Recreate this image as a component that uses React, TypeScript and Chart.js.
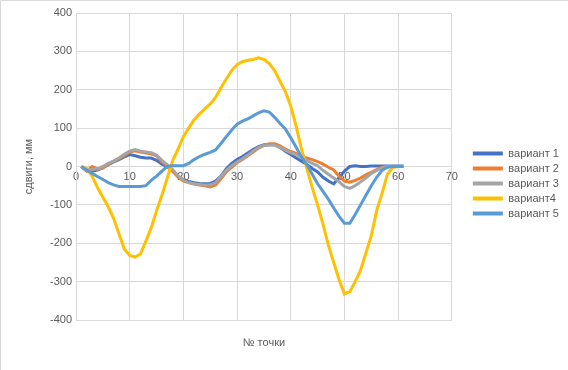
import { useEffect, useRef } from "react";
import { Chart, registerables } from "chart.js";

Chart.register(...registerables);

const pointNumbers = [
  1, 2, 3, 4, 5, 6, 7, 8, 9, 10, 11, 12, 13, 14, 15, 16, 17, 18, 19, 20,
  21, 22, 23, 24, 25, 26, 27, 28, 29, 30, 31, 32, 33, 34, 35, 36, 37, 38, 39, 40,
  41, 42, 43, 44, 45, 46, 47, 48, 49, 50, 51, 52, 53, 54, 55, 56, 57, 58, 59, 60, 61,
];

const seriesNames = ["вариант 1", "вариант 2", "вариант 3", "вариант4", "вариант 5"];
const seriesColors = ["#4472C4", "#ED7D31", "#A5A5A5", "#FFC000", "#5B9BD5"];

const variant1 = [
  0, -12, -12, -9, -3, 5, 12, 18, 25, 31, 28, 24, 22, 22, 16, 6, 0, -12, -25, -35,
  -39, -42, -44, -45, -44, -38, -25, -6, 8, 18, 26, 35, 44, 52, 57, 57, 57, 50, 40, 31,
  22, 14, 5, -5, -14, -28, -38, -45, -29, -12, 0, 2, 0, 0, 1, 1, 1, 1, 1, 1, 1,
];
const variant2 = [
  0, -12, 0, -7, -4, 6, 14, 20, 28, 38, 41, 38, 35, 33, 28, 12, 2, -12, -28, -38,
  -42, -46, -48, -50, -53, -48, -32, -14, -2, 10, 18, 28, 38, 48, 55, 59, 59, 54, 45, 39,
  34, 27, 22, 18, 13, 6, -2, -9, -25, -38, -41, -36, -30, -22, -15, -8, -2, 0, 0, 0, 0,
];
const variant3 = [
  0, -10, -8, -6, 0, 8, 14, 22, 32, 40, 44, 40, 38, 36, 30, 16, 4, -8, -24, -36,
  -42, -45, -47, -48, -48, -42, -26, -10, 2, 12, 20, 30, 40, 50, 55, 56, 56, 50, 42, 36,
  30, 24, 16, 8, 2, -10, -20, -30, -40, -52, -57, -50, -40, -30, -18, -10, -4, 0, 0, 0, 0,
];
const variant4 = [
  0, -5, -25, -55, -80, -105, -135, -175, -215, -232, -236, -228, -195, -160, -115, -75, -30, 15, 45, 78,
  100, 122, 137, 150, 163, 180, 205, 228, 250, 265, 273, 277, 279, 283, 279, 268, 250, 222, 195, 157,
  105, 45, -5, -55, -100, -150, -205, -250, -295, -332, -326, -300, -270, -225, -180, -115, -70, -20, -3, 0, 0,
];
const variant5 = [
  0, -9, -18, -26, -34, -42, -48, -52, -52, -52, -52, -52, -50, -36, -25, -12, 0, 2, 2, 2,
  8, 18, 26, 32, 37, 43, 60, 78, 95, 110, 118, 124, 132, 140, 145, 142, 128, 112, 98, 75,
  50, 25, 5, -20, -45, -65, -85, -108, -130, -148, -148, -125, -100, -75, -50, -28, -10, -2, 0, 0, 0,
];
const allSeries = [variant1, variant2, variant3, variant4, variant5];

const xTitle = "№ точки";
const yTitle = "сдвиги, мм";

const textColor = "#595959";
const gridColor = "#D9D9D9";
const fontFamily = "'Liberation Sans', Arial, sans-serif";

const frame = {
  id: "frame",
  beforeDraw(chart: any) {
    const ctx = chart.ctx;
    ctx.save();
    ctx.fillStyle = "#ffffff";
    ctx.fillRect(0, 0, chart.width, chart.height);
    ctx.strokeStyle = gridColor;
    ctx.lineWidth = 1;
    ctx.beginPath();
    ctx.moveTo(0.5, chart.height);
    ctx.lineTo(0.5, 0.5);
    ctx.lineTo(chart.width, 0.5);
    ctx.stroke();
    ctx.restore();
  },
};

export default function App() {
  const ref = useRef<HTMLCanvasElement | null>(null);

  useEffect(() => {
    if (!ref.current) return;
    const datasets = allSeries.map((vals, i) => ({
      label: seriesNames[i],
      data: vals.map((y, k) => ({ x: pointNumbers[k], y })),
      borderColor: seriesColors[i],
      backgroundColor: seriesColors[i],
      borderWidth: 3,
      pointRadius: 0,
      tension: 0,
      order: -i,
      xAxisID: "x",
      yAxisID: "y",
    }));
    const chart = new Chart(ref.current, {
      type: "line",
      data: { datasets },
      plugins: [frame],
      options: {
        responsive: false,
        animation: false,
        layout: { padding: { left: 18, right: 9, top: 13, bottom: 16 } },
        plugins: {
          tooltip: { enabled: false },
          legend: {
            position: "right",
            labels: {
              boxWidth: 30,
              boxHeight: 4,
              padding: 4,
              color: textColor,
              font: { size: 11, family: fontFamily },
              sort: (a: any, b: any) => a.datasetIndex - b.datasetIndex,
              generateLabels: (c: any) =>
                Chart.defaults.plugins.legend.labels
                  .generateLabels(c)
                  .map((l: any) => ({ ...l, lineWidth: 0 })),
            },
          },
        },
        scales: {
          x: {
            type: "linear",
            position: { y: 0 } as any,
            min: 0,
            max: 70,
            ticks: {
              stepSize: 10,
              padding: 4,
              maxRotation: 0,
              color: textColor,
              font: { size: 11, family: fontFamily },
            },
            grid: { color: gridColor, drawTicks: false },
            border: { color: gridColor },
          },
          y: {
            type: "linear",
            position: "left",
            min: -400,
            max: 400,
            ticks: {
              stepSize: 100,
              padding: 4,
              color: textColor,
              font: { size: 11, family: fontFamily },
            },
            grid: { color: gridColor, drawTicks: false },
            border: { color: gridColor },
            title: {
              display: true,
              text: yTitle,
              color: textColor,
              font: { size: 11, family: fontFamily },
              padding: { top: 4, bottom: 4 },
            },
            afterFit: (s: any) => {
              s.width = 58;
            },
          },
          xTitleAxis: {
            type: "linear",
            position: "bottom",
            display: true,
            ticks: { display: false },
            grid: { display: false },
            border: { display: false },
            title: {
              display: true,
              text: xTitle,
              color: textColor,
              font: { size: 11, family: fontFamily },
              padding: { top: 16, bottom: 4 },
            },
            afterFit: (s: any) => {
              s.height = 34;
            },
          },
          gap: {
            type: "linear",
            position: "right",
            display: true,
            ticks: { display: false },
            grid: { display: false },
            border: { display: false },
            afterFit: (s: any) => {
              s.width = 17;
            },
          },
        },
      } as any,
    });
    return () => chart.destroy();
  }, []);

  return (
    <div style={{ position: "absolute", left: 0, top: 0, width: 568, height: 370 }}>
      <canvas ref={ref} width={568} height={370} />
    </div>
  );
}
